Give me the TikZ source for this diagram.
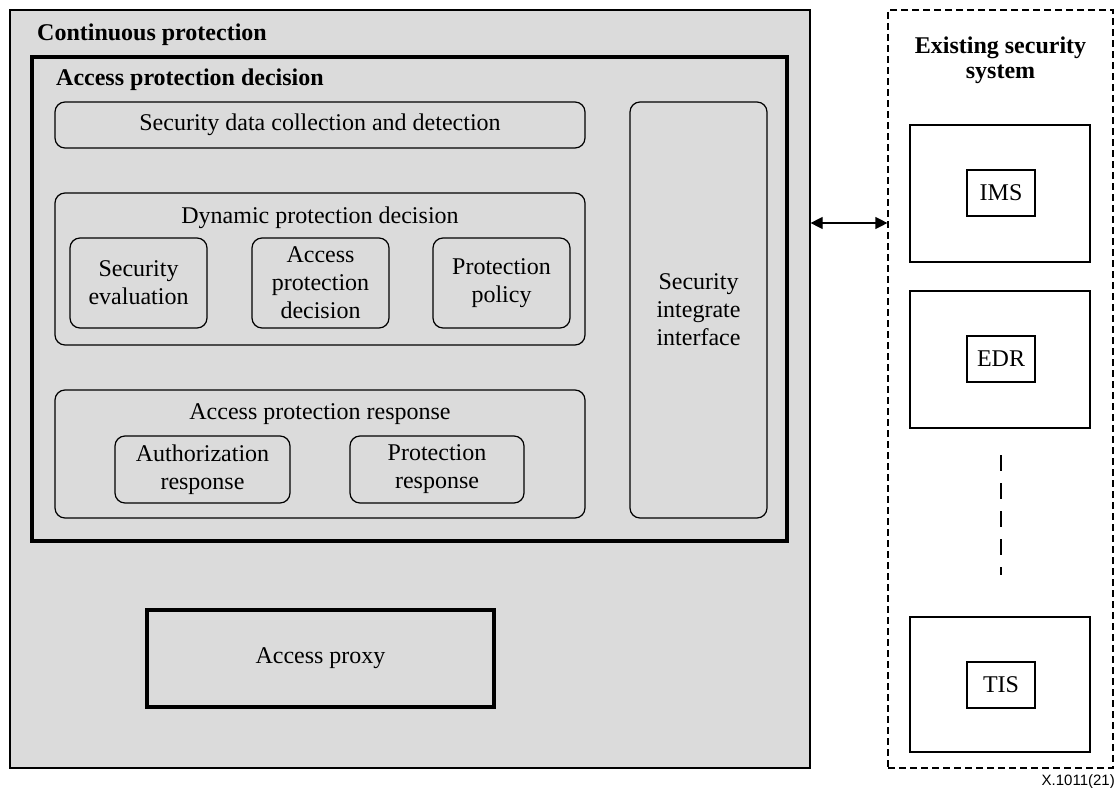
\documentclass[tikz,border=0pt]{standalone}
\usepackage{fontspec}
\usetikzlibrary{arrows.meta}
\setmainfont{Liberation Serif}
\newfontfamily\labelsans{Liberation Sans}
\begin{document}
\begin{tikzpicture}[x=1pt,y=-1pt,
  txt/.style={font=\fontsize{24}{28}\selectfont, align=center},
  title/.style={font=\fontsize{24}{28}\selectfont\bfseries, anchor=base west, inner sep=0pt},
  rbox/.style={draw, line width=1.2pt, rounded corners=10pt, inner sep=0pt, txt},
  sbox/.style={draw, line width=1.2pt, inner sep=0pt, txt},
  thickbox/.style={draw, line width=3.5pt, inner sep=0pt, txt},
  zone/.style={draw, line width=1.2pt, fill=black!14, inner sep=0pt},
  extzone/.style={draw, line width=1.2pt, dashed, dash pattern=on 7pt off 4pt, inner sep=0pt},
  link/.style={line width=1.2pt, {Triangle[length=12pt,width=12pt]}-{Triangle[length=12pt,width=12pt]}}
]
\useasboundingbox (0,0) rectangle (1118,787);

% continuous protection area
\node[zone, minimum width=800pt, minimum height=758pt] (cp) at (410,389) {};
\node[title] (cpt) at (37,40) {Continuous protection};

% access protection decision frame
\node[thickbox, minimum width=755pt, minimum height=484pt] (apdf) at (409.5,299) {};
\node[title] (apdt) at (56,85) {Access protection decision};

\node[rbox, minimum width=530pt, minimum height=46pt] (sdc) at (320,125) {Security data collection and detection};

% dynamic protection decision
\node[rbox, minimum width=530pt, minimum height=152pt] (dyn) at (320,269) {};
\node[txt, anchor=base] (dynt) at (320,223) {Dynamic protection decision};
\node[rbox, minimum width=137pt, minimum height=90pt] (seval) at (138.5,283) {Security\\evaluation};
\node[rbox, minimum width=137pt, minimum height=90pt] (apd) at (320.5,283) {Access\\protection\\decision};
\node[rbox, minimum width=137pt, minimum height=90pt] (ppol) at (501.5,283) {Protection\\policy};

% access protection response
\node[rbox, minimum width=530pt, minimum height=128pt] (apr) at (320,454) {};
\node[txt, anchor=base] (aprt) at (320,419) {Access protection response};
\node[rbox, minimum width=175pt, minimum height=67pt] (authr) at (202.5,469.5) {Authorization\\response};
\node[rbox, minimum width=174pt, minimum height=67pt] (protr) at (437,469.5) {Protection\\response};

\node[rbox, minimum width=137pt, minimum height=416pt] (sii) at (698.5,310) {Security\\integrate\\interface};

\node[thickbox, minimum width=347pt, minimum height=97pt] (proxy) at (320.5,658.5) {Access proxy};

% existing security system (base anchor sits on the last line)
\node[extzone, minimum width=225pt, minimum height=758pt] (ess) at (1000.5,389) {};
\node[txt, font=\fontsize{24}{25}\selectfont\bfseries, anchor=base, inner sep=0pt] (esst) at (1000.5,78) {Existing security\\system};

\node[sbox, minimum width=180pt, minimum height=137pt] (imsb) at (1000,193.5) {};
\node[sbox, minimum width=68pt, minimum height=46pt] (ims) at (1001,193) {IMS};
\node[sbox, minimum width=180pt, minimum height=137pt] (edrb) at (1000,359.5) {};
\node[sbox, minimum width=68pt, minimum height=46pt] (edr) at (1001,359) {EDR};
\node[sbox, minimum width=180pt, minimum height=135pt] (tisb) at (1000,684.5) {};
\node[sbox, minimum width=68pt, minimum height=46pt] (tis) at (1001,685) {TIS};

\coordinate (gapa) at (1001,455);
\coordinate (gapb) at (1001,575);
\draw[line width=1.2pt, dash pattern=on 16pt off 12pt] (gapa) -- (gapb);

\draw[link] (cp.east |- 0,223) -- (ess.west |- 0,223);

\node[font=\labelsans\fontsize{15}{17}\selectfont, anchor=base east, inner sep=0pt] (fig) at (1115,785) {X.1011(21)};
\end{tikzpicture}
\end{document}
